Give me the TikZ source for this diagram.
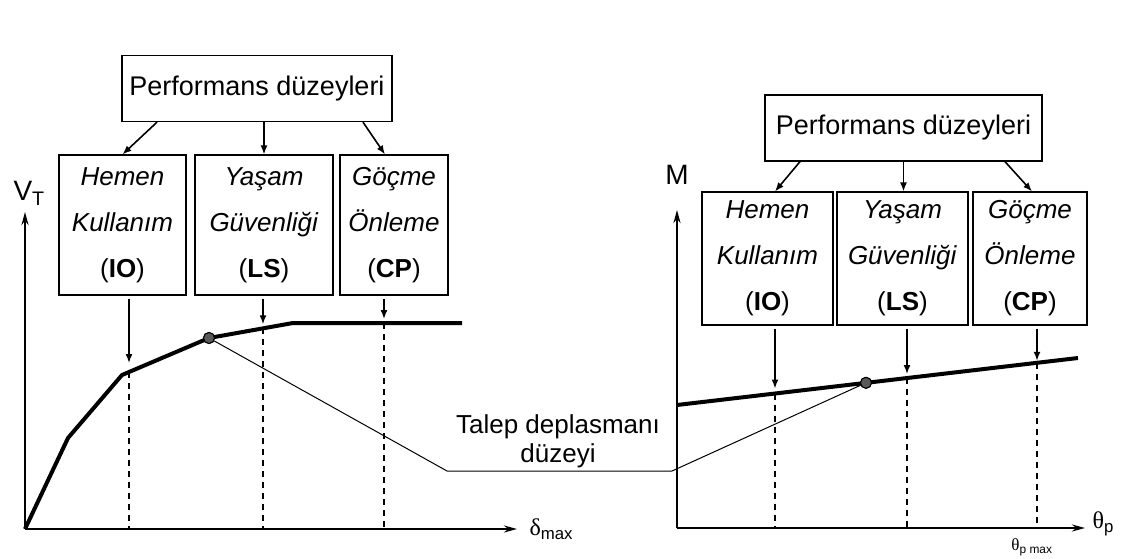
\documentclass[tikz,border=0pt]{standalone}
\usepackage{fontspec}
\setmainfont{Liberation Sans}
\newfontfamily\greekfont{Liberation Serif}
\usetikzlibrary{arrows.meta}

\tikzset{
	perfbox/.style={draw, line width=1.3pt, minimum width=#1, minimum height=66pt, inner sep=0pt, font=\fontsize{27}{32}\selectfont},
	levelbox/.style 2 args={draw, line width=1.1pt, minimum width=#1, minimum height=#2, inner sep=0pt, align=center, font=\fontsize{26}{46}\selectfont},
	link/.style={-{Latex[length=9pt,width=7pt]}, line width=1.6pt},
	axisarrow/.style={-{Stealth[length=13pt,width=7pt]}, line width=2.2pt},
	capline/.style={line width=4pt, line join=round},
	levelline/.style={dash pattern=on 6pt off 5pt, line width=1.8pt},
	leader/.style={line width=1pt},
	demanddot/.style={circle, draw, fill=black!65, line width=1pt, minimum size=11pt, inner sep=0pt}
}

\begin{document}
\begin{tikzpicture}[x=1pt,y=-1pt]
	\useasboundingbox (0,0) rectangle (1128,559);

	\node[perfbox=270pt] (perfL) at (257,88.5) {Performans düzeyleri};
	\node[levelbox={127pt}{140pt}] (ioL) at (122.5,225) {\textit{Hemen}\\\textit{Kullanım}\\(\textbf{IO})};
	\node[levelbox={138pt}{140pt}] (lsL) at (264,225) {\textit{Yaşam}\\\textit{Güvenliği}\\(\textbf{LS})};
	\node[levelbox={108pt}{140pt}] (cpL) at (394,225) {\textit{Göçme}\\\textit{Önleme}\\(\textbf{CP})};

	\node[perfbox=277pt] (perfR) at (903.5,128) {Performans düzeyleri};
	\node[levelbox={131pt}{133pt}] (ioR) at (767.5,258.5) {\textit{Hemen}\\\textit{Kullanım}\\(\textbf{IO})};
	\node[levelbox={131pt}{133pt}] (lsR) at (902.5,258.5) {\textit{Yaşam}\\\textit{Güvenliği}\\(\textbf{LS})};
	\node[levelbox={114pt}{133pt}] (cpR) at (1030,258.5) {\textit{Göçme}\\\textit{Önleme}\\(\textbf{CP})};

	\path[link] ([shift={(-100,0)}]perfL.south) edge (ioL.north);
	\path[link] (lsL.north |- perfL.south) edge (lsL.north);
	\path[link] ([shift={(106,0)}]perfL.south) edge ([shift={(-9,0)}]cpL.north);
	\path[link] ([shift={(-103.5,0)}]perfR.south) edge ([shift={(7.5,0)}]ioR.north);
	\path[link] (perfR.south) edge (perfR.south |- lsR.north);
	\path[link] ([shift={(101.5,0)}]perfR.south) edge ([shift={(2,0)}]cpR.north);

	\coordinate (oL) at (25,529);
	\coordinate (yL) at (25,212);
	\coordinate (xL) at (517,529);
	\coordinate (kL1) at (68,438);
	\coordinate (kL2) at (122,375);
	\coordinate (kL3) at (293,323);
	\coordinate (endL) at (462,323);
	\coordinate (ioLpt) at (129,372);
	\coordinate (lsLpt) at (263,328.3);
	\coordinate (cpLpt) at (384,323);

	\coordinate (oR) at (677,528);
	\coordinate (yR) at (677,210);
	\coordinate (xR) at (1085,528);
	\coordinate (startR) at (677,405);
	\coordinate (endR) at (1078,358);
	\coordinate (ioRpt) at (775,393.5);
	\coordinate (lsRpt) at (907,378);
	\coordinate (cpRpt) at (1037,362.8);

	\coordinate (bendL) at (447,471);
	\coordinate (bendR) at (672,471);

	\draw[levelline] (ioLpt) -- (ioLpt |- oL);
	\draw[levelline] (lsLpt) -- (lsLpt |- oL);
	\draw[levelline] (cpLpt) -- (cpLpt |- oL);
	\draw[levelline] (ioRpt) -- (ioRpt |- oR);
	\draw[levelline] (lsRpt) -- (lsRpt |- oR);
	\draw[levelline] (cpRpt) -- (cpRpt |- oR);

	\draw[axisarrow] (oL) -- (yL);
	\draw[axisarrow] (oL) -- (xL);
	\draw[axisarrow] (oR) -- (yR);
	\draw[axisarrow] (oR) -- (xR);

	\node[demanddot] (dotL) at (209,338) {};
	\node[demanddot] (dotR) at (866,382.8) {};

	\draw[capline] (oL) -- (kL1) -- (kL2) -- (dotL.center) -- (kL3) -- (endL);
	\draw[capline] (startR) -- (endR);
	\node[demanddot] at (dotL) {};
	\node[demanddot] at (dotR) {};

	\path[link, shorten <=3pt] (ioLpt |- ioL.south) edge ([shift={(0,-9)}]ioLpt);
	\path[link, shorten <=3pt] (lsLpt |- lsL.south) edge ([shift={(0,-4)}]lsLpt);
	\path[link, shorten <=3pt] (cpLpt |- cpL.south) edge ([shift={(0,-4)}]cpLpt);
	\path[link, shorten <=3pt] (ioRpt |- ioR.south) edge ([shift={(0,-5)}]ioRpt);
	\path[link, shorten <=3pt] (lsRpt |- lsR.south) edge ([shift={(0,-4)}]lsRpt);
	\path[link, shorten <=3pt] (cpRpt |- cpR.south) edge ([shift={(0,-2)}]cpRpt);

	\node[align=center, font=\fontsize{26}{29}\selectfont] (talep) at (558,441) {Talep deplasmanı\\düzeyi};
	\draw[leader] ([shift={(14,9)}]dotL) -- (bendL) -- (bendR) -- ([shift={(-14,11)}]dotR);

	\node[anchor=west, font=\fontsize{28}{30}\selectfont] (vt) at (10,193) {V\textsubscript{T}};
	\node[font=\fontsize{28}{30}\selectfont] (mlabel) at (677,175) {M};
	\node[anchor=west, font=\fontsize{24}{26}\selectfont] (dmax) at (526,529) {{\greekfont δ}\textsubscript{max}};
	\node[anchor=west, font=\fontsize{24}{26}\selectfont] (thp) at (1089,524) {{\greekfont θ}\textsubscript{p}};
	\node[font=\fontsize{17}{19}\selectfont] (thpmax) at (1032,547) {{\greekfont θ}\textsubscript{p max}};

\end{tikzpicture}
\end{document}
